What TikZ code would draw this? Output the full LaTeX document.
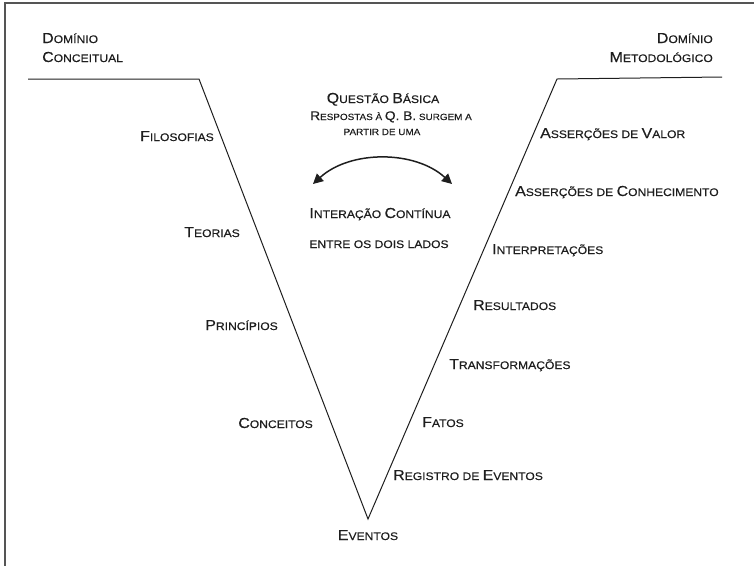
\documentclass[tikz,border=0pt]{standalone}
\usepackage{fontspec}
\setmainfont[FakeStretch=1.1,FakeBold=0.4]{Liberation Sans}
\usetikzlibrary{arrows.meta}
\newcommand\Bg[1]{{\fontsize{14.5}{16}\selectfont #1}}
\newcommand\Sm[1]{{\fontsize{11}{12}\selectfont #1}}
\newcommand\Bgb[1]{{\fontsize{12.5}{14}\selectfont #1}}
\newcommand\Smb[1]{{\fontsize{9}{11}\selectfont #1}}
\definecolor{ink}{HTML}{1E1E1E}
\definecolor{framec}{HTML}{555555}
\begin{document}
\begin{tikzpicture}[x=1pt,y=-1pt,
  lbl/.style={inner sep=0pt,text=ink},
  lw/.style={lbl,anchor=base west},
  le/.style={lbl,anchor=base east},
  lc/.style={lbl,anchor=base},
  vline/.style={draw=ink,line width=1pt},
  frame/.style={draw=framec,line width=1.6pt}]
\useasboundingbox (0,0) rectangle (754,566);
% frame
\coordinate (f1) at (754,3);
\coordinate (f2) at (5,3);
\coordinate (f3) at (5,566);
\draw[frame] (f1) -- (f2) -- (f3);
% V shape
\coordinate (l0) at (28,79);
\coordinate (l1) at (199,79);
\coordinate (v) at (368,519);
\coordinate (r1) at (557,79);
\coordinate (r0) at (722,77);
\draw[vline,line join=miter] (l0) -- (l1) -- (v) -- (r1) -- (r0);
% headings
\node[lw] (dc1) at (42,43) {\Bg{D}\Sm{OMÍNIO}};
\node[lw] (dc2) at (42,62) {\Bg{C}\Sm{ONCEITUAL}};
\node[le] (dm1) at (713,43) {\Bg{D}\Sm{OMÍNIO}};
\node[le] (dm2) at (713,62) {\Bg{M}\Sm{ETODOLÓGICO}};
% left labels
\node[le] (fil) at (214,141) {\Bg{F}\Sm{ILOSOFIAS}};
\node[le] (teo) at (240,237) {\Bg{T}\Sm{EORIAS}};
\node[le] (pri) at (278,330) {\Bg{P}\Sm{RINCÍPIOS}};
\node[le] (con) at (313,428) {\Bg{C}\Sm{ONCEITOS}};
\node[lc] (eve) at (368,540) {\Bg{E}\Sm{VENTOS}};
% right labels
\node[lw] (asv) at (540,138) {\Bg{A}\Sm{SSERÇÕES DE }\Bg{V}\Sm{ALOR}};
\node[lw] (asc) at (515,196) {\Bg{A}\Sm{SSERÇÕES DE }\Bg{C}\Sm{ONHECIMENTO}};
\node[lw] (int) at (492,254) {\Bg{I}\Sm{NTERPRETAÇÕES}};
\node[lw] (res) at (473,310) {\Bg{R}\Sm{ESULTADOS}};
\node[lw] (tra) at (449,369) {\Bg{T}\Sm{RANSFORMAÇÕES}};
\node[lw] (fat) at (422,427) {\Bg{F}\Sm{ATOS}};
\node[lw] (reg) at (393,480) {\Bg{R}\Sm{EGISTRO DE }\Bg{E}\Sm{VENTOS}};
% center
\node[lc] (qb) at (383,103) {\Bg{Q}\Sm{UESTÃO }\Bg{B}\Sm{ÁSICA}};
\node[lc] (rq) at (391,120) {\Bgb{R}\Smb{ESPOSTAS À }\Bgb{Q. B.}\Smb{ SURGEM A}};
\node[lc] (pu) at (382,135) {\Smb{PARTIR DE UMA}};
\node[lc] (ic) at (380,218) {\Bg{I}\Sm{NTERAÇÃO }\Bg{C}\Sm{ONTÍNUA}};
\node[lc] (el) at (379,248) {\Sm{ENTRE OS DOIS LADOS}};
% arrow
\coordinate (aL) at (313,184);
\coordinate (aR) at (452,184);
\draw[draw=ink,line width=1.5pt,{Triangle[length=10pt,width=10pt]}-{Triangle[length=10pt,width=10pt]}]
  (aL) .. controls (350,150) and (415,150) .. (aR);
\end{tikzpicture}
\end{document}
